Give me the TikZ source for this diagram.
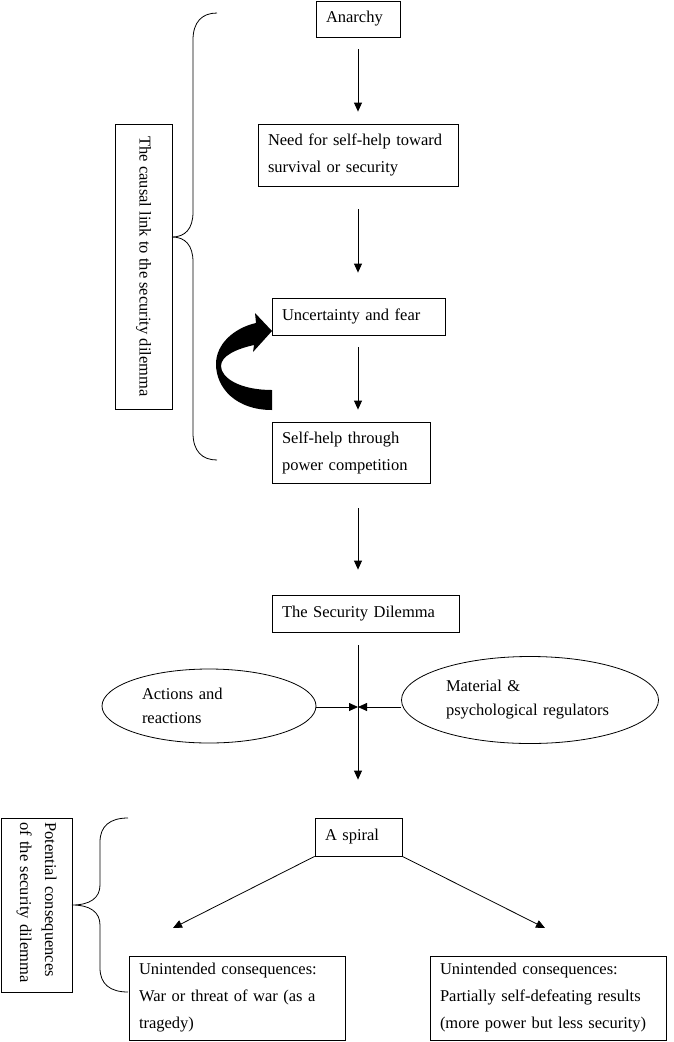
\documentclass[tikz,border=0pt]{standalone}
\usepackage{fontspec}
\setmainfont{Liberation Serif}
\usetikzlibrary{arrows.meta,shapes.geometric,calc}

\begin{document}
\begin{tikzpicture}[x=1pt,y=-1pt,
        font=\fontsize{16.5}{27}\selectfont,
        box/.style={draw,line width=0.8pt,inner xsep=10pt,inner ysep=0pt,align=left},
        sidebox/.style={draw,line width=0.8pt,inner ysep=0pt,rotate=-90},
        oval/.style={draw,ellipse,line width=0.8pt,inner sep=0pt,align=left,font=\fontsize{16.5}{24}\selectfont},
        flow/.style={line width=0.8pt,-{Triangle[length=9pt,width=8pt]}},
        curly/.style={line width=0.8pt}]
        \useasboundingbox (0,0) rectangle (673,1042);

        % main chain
        \node[box,text width=64pt,minimum height=36pt] (anarchy) at (358,19) {Anarchy};
        \node[box,text width=180pt,minimum height=62pt] (need) at (358,155) {Need for self-help toward\\survival or security};
        \node[box,text width=153pt,minimum height=37pt] (uncert) at (358.5,316.5) {Uncertainty and fear};
        \node[box,text width=138pt,minimum height=61pt] (selfhelp) at (351,452.5) {Self-help through\\power competition};
        \node[box,text width=167pt,minimum height=37pt] (dilemma) at (365.5,613.5) {The Security Dilemma};
        \node[box,text width=67pt,minimum height=38pt] (spiral) at (358.5,837) {A spiral};
        \node[box,text width=196pt,minimum height=84pt] (war) at (237,998) {Unintended consequences:\\War or threat of war (as a\\tragedy)};
        \node[box,text width=216pt,minimum height=84pt] (partial) at (548,998) {Unintended consequences:\\Partially self-defeating results\\(more power but less security)};

        % regulators
        \node[oval,text width=134pt,minimum width=214pt,minimum height=74pt] (actions) at (209,706) {Actions and\\reactions};
        \node[oval,text width=168pt,minimum width=257pt,minimum height=87pt] (material) at (530,700) {Material \&\\psychological regulators};

        % side labels
        \node[sidebox,inner xsep=8pt,minimum width=285pt,minimum height=57pt] (causal) at (143.5,266.5) {The causal link to the security dilemma};
        \node[sidebox,inner xsep=4pt,text width=166pt,align=left,minimum width=174pt,minimum height=71pt,font=\fontsize{16.5}{25}\selectfont] (potential) at (36.5,905) {Potential consequences\\of the security dilemma};

        \draw[flow,shorten <=12pt,shorten >=12pt] (anarchy.south) -- (anarchy.south |- need.north);
        \draw[flow,shorten <=23pt,shorten >=25pt] (need.south) -- (need.south |- uncert.north);
        \draw[flow,shorten <=12pt,shorten >=12pt] (need.south |- uncert.south) -- (need.south |- selfhelp.north);
        \draw[flow,shorten <=25pt,shorten >=25pt] (need.south |- selfhelp.south) -- (need.south |- dilemma.north);
        \draw[flow,shorten <=13pt,shorten >=38pt] (need.south |- dilemma.south) -- (need.south |- spiral.north);

        \coordinate (meet) at (358,707);
        \draw[flow] (actions.east |- meet) -- (meet);
        \draw[flow] (material.west |- meet) -- (meet);

        \coordinate (wartip) at (173,928);
        \coordinate (partialtip) at (545,928);
        \draw[flow] (spiral.south west) -- (wartip);
        \draw[flow] (spiral.south east) -- (partialtip);

        % braces
        \draw[curly] (217,13) .. controls (202,13) and (193,22) .. (193,40) -- (193,212)
            .. controls (193,229) and (185,237) .. (172,237)
            .. controls (185,237) and (193,245) .. (193,262) -- (193,433)
            .. controls (193,451) and (202,460) .. (217,460);
        \draw[curly] (128,818) .. controls (110,818) and (100,826) .. (100,842) -- (100,885)
            .. controls (100,898) and (90,905) .. (72,905)
            .. controls (90,905) and (100,912) .. (100,925) -- (100,968)
            .. controls (100,984) and (110,992) .. (128,992);

        % feedback arrow
        \fill (272,410) .. controls (236,410) and (216,388) .. (216,364)
            .. controls (216,344) and (234,328) .. (256,323) -- (255,313) -- (272,331) -- (253,352) -- (254,345)
            .. controls (236,349) and (221,356) .. (221,366)
            .. controls (221,378) and (240,390) .. (272,390) -- cycle;
\end{tikzpicture}
\end{document}
